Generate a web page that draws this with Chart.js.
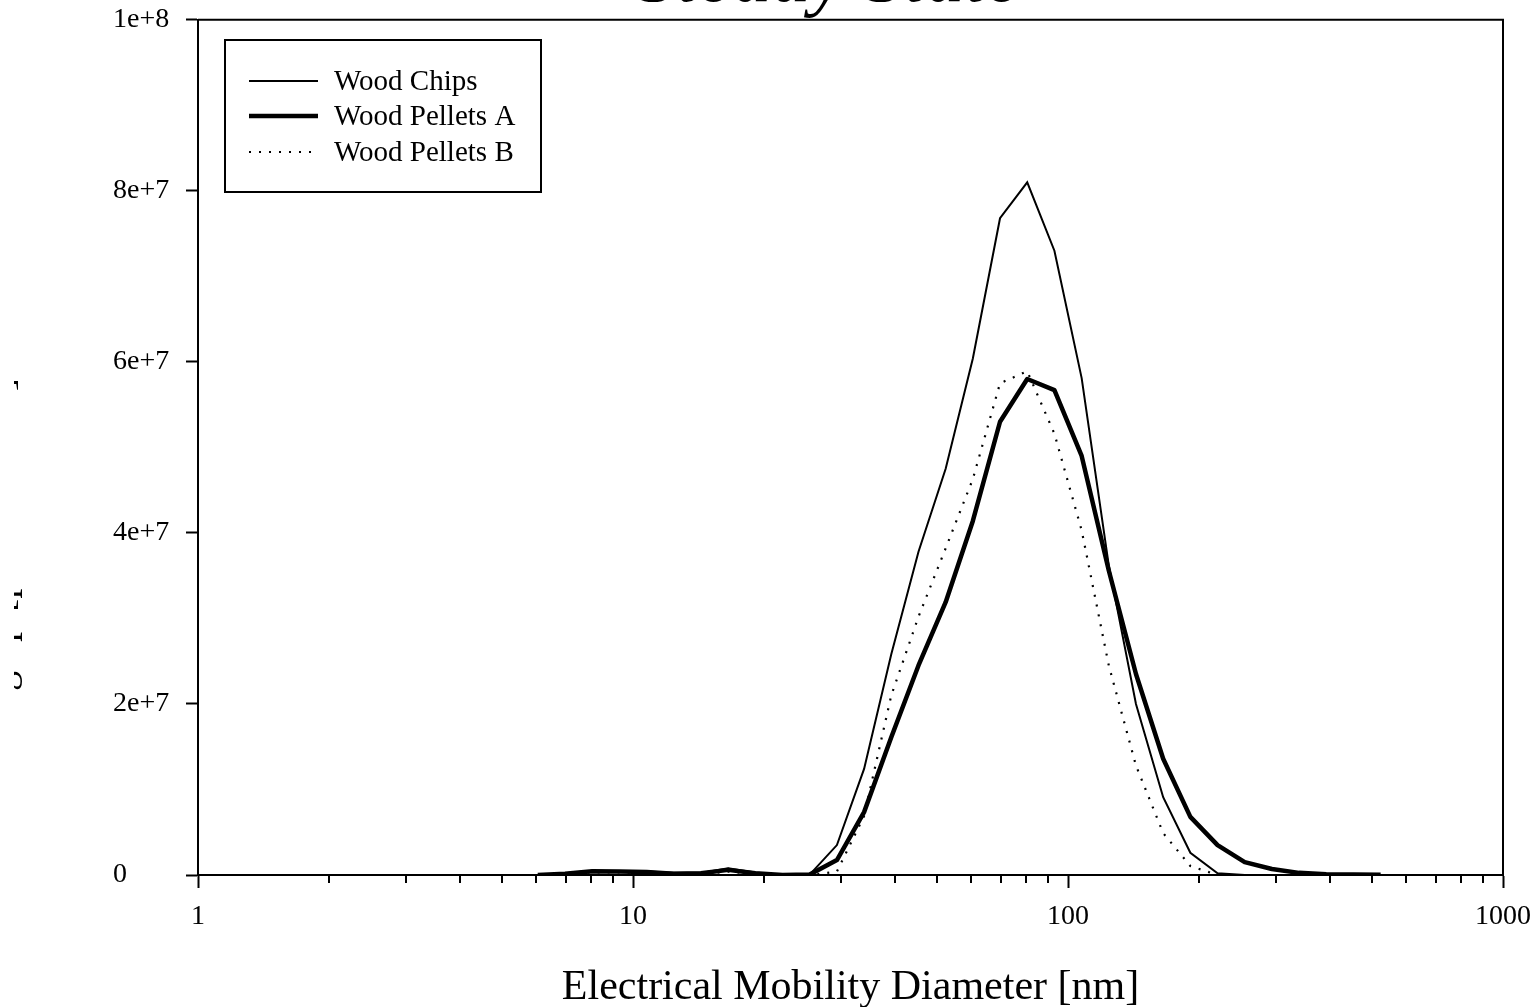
<!DOCTYPE html>
<html lang="en">
<head>
    <meta charset="UTF-8">
    <title>Steady State</title>
    <script src="https://cdn.jsdelivr.net/npm/chart.js"></script>
    <style>
        html, body { margin: 0; padding: 0; background: #fff; overflow: hidden; }
        canvas { display: block; }
    </style>
</head>
<body>
    <canvas id="sizeChart" width="1538" height="1007"></canvas>
    <script>
        // mobility diameter bins [nm]
        const diameters = [6.04, 6.98, 8.06, 9.31, 10.75, 12.41, 14.33, 16.55, 19.11, 22.07,
            25.48, 29.43, 33.98, 39.24, 45.32, 52.33, 60.43, 69.78, 80.59, 93.06,
            107.5, 124.1, 143.3, 165.5, 191.1, 220.7, 254.8, 294.3, 339.8, 392.4, 453.2, 523.3];

        const woodChips = [0, 2e5, 5e5, 4.5e5, 4e5, 2.5e5, 2.5e5, 8e5, 3e5, 0,
            5e4, 3.5e6, 1.24e7, 2.58e7, 3.78e7, 4.75e7, 6.04e7, 7.68e7, 8.10e7, 7.30e7,
            5.81e7, 3.62e7, 2.0e7, 9.1e6, 2.6e6, 2e5, 0, 0, 0, 0, 0, 0];

        const woodPelletsA = [0, 1.5e5, 4.5e5, 4e5, 3.5e5, 1.5e5, 2e5, 6e5, 2e5, 0,
            5e4, 1.75e6, 7.35e6, 1.61e7, 2.45e7, 3.19e7, 4.14e7, 5.30e7, 5.80e7, 5.67e7,
            4.90e7, 3.56e7, 2.35e7, 1.36e7, 6.8e6, 3.5e6, 1.5e6, 7e5, 2.5e5, 1e5, 5e4, 2e4];

        const woodPelletsB = [0, 1e5, 3e5, 3e5, 2e5, 1e5, 1e5, 4e5, 1e5, 0,
            0, 4e5, 6.9e6, 2.1e7, 3.02e7, 3.82e7, 4.63e7, 5.75e7, 5.89e7, 5.16e7,
            4.03e7, 2.45e7, 1.28e7, 4.9e6, 1.05e6, 0, 0, 0, 0, 0, 0, 0];

        const xMajorTicks = [1, 10, 100, 1000];
        const yTicks = [0, 2e7, 4e7, 6e7, 8e7, 1e8];

        const seriesNames = ['Wood Chips', 'Wood Pellets A', 'Wood Pellets B'];
        const chartTitle = 'Steady State';
        const xTitle = 'Electrical Mobility Diameter [nm]';
        const yTitle = 'dN/dlogDp [particles/cm³]';

        const serif = "'Liberation Serif', 'Times New Roman', serif";

        function toPoints(values) {
            return values.map((v, i) => ({ x: diameters[i], y: v }));
        }

        // white background, top/right frame, minor ticks, title, legend
        const decorations = {
            id: 'decorations',
            beforeDraw(chart) {
                const c = chart.ctx;
                c.save();
                c.fillStyle = '#fff';
                c.fillRect(0, 0, chart.width, chart.height);
                c.restore();
            },
            afterDraw(chart) {
                const c = chart.ctx;
                const a = chart.chartArea;
                const xs = chart.scales.x;
                c.save();
                c.strokeStyle = '#000';
                c.lineWidth = 2;
                // top + right frame
                c.beginPath();
                c.moveTo(a.left, a.top);
                c.lineTo(a.right, a.top);
                c.lineTo(a.right, a.bottom);
                c.stroke();
                // minor ticks on the log axis
                c.beginPath();
                for (let dec = 1; dec < 1000; dec *= 10) {
                    for (let m = 2; m <= 9; m++) {
                        const px = Math.round(xs.getPixelForValue(m * dec));
                        c.moveTo(px, a.bottom);
                        c.lineTo(px, a.bottom + 8);
                    }
                }
                c.stroke();

                // title (runs off the top of the page)
                c.fillStyle = '#000';
                c.font = 'italic 78px ' + serif;
                c.textAlign = 'center';
                c.textBaseline = 'alphabetic';
                c.fillText(chartTitle, 829, 1);

                // y title, mostly cut off at the left edge
                c.save();
                c.beginPath();
                c.rect(14, 0, 30, chart.height);
                c.clip();
                c.translate(13, 590);
                c.rotate(-Math.PI / 2);
                c.font = '40px ' + serif;
                c.fillText(yTitle, 0, 0);
                c.restore();

                // legend box
                c.lineWidth = 2;
                c.strokeRect(225, 40, 316, 152);
                const rowY = [81, 116, 152];
                chart.data.datasets.forEach((ds, i) => {
                    c.save();
                    c.lineWidth = ds.borderWidth;
                    c.setLineDash(ds.borderDash || []);
                    c.lineCap = ds.borderCapStyle || 'butt';
                    c.beginPath();
                    c.moveTo(249, rowY[i]);
                    c.lineTo(318, rowY[i]);
                    c.stroke();
                    c.restore();
                    c.font = '29px ' + serif;
                    c.textAlign = 'left';
                    c.textBaseline = 'middle';
                    c.fillText(ds.label, 334, rowY[i] + 1);
                });
                c.restore();
            }
        };

        const ctx = document.getElementById('sizeChart').getContext('2d');
        const sizeChart = new Chart(ctx, {
            type: 'line',
            data: {
                datasets: [{
                    label: seriesNames[0],
                    data: toPoints(woodChips),
                    borderColor: '#000',
                    borderWidth: 2,
                    pointRadius: 0
                }, {
                    label: seriesNames[1],
                    data: toPoints(woodPelletsA),
                    borderColor: '#000',
                    borderWidth: 4.5,
                    borderJoinStyle: 'round',
                    pointRadius: 0
                }, {
                    label: seriesNames[2],
                    data: toPoints(woodPelletsB),
                    borderColor: '#000',
                    borderWidth: 2.2,
                    borderDash: [2, 8],
                    pointRadius: 0
                }]
            },
            options: {
                responsive: false,
                animation: false,
                devicePixelRatio: 1,
                layout: { padding: { left: 113, top: 18, right: 35, bottom: 0 } },
                plugins: {
                    legend: { display: false },
                    title: { display: false },
                    tooltip: { enabled: false }
                },
                scales: {
                    x: {
                        type: 'logarithmic',
                        min: 1,
                        max: 1000,
                        afterBuildTicks: (scale) => {
                            scale.ticks = xMajorTicks.map(v => ({ value: v, major: true }));
                        },
                        afterFit: (scale) => {
                            scale.height = 132;
                            scale.paddingLeft = 0;
                            scale.paddingRight = 0;
                        },
                        border: { display: true, color: '#000', width: 2 },
                        grid: {
                            drawOnChartArea: false,
                            drawTicks: true,
                            tickLength: 13,
                            tickWidth: 2,
                            tickColor: '#000'
                        },
                        ticks: {
                            color: '#000',
                            font: { family: serif, size: 28 },
                            padding: 12,
                            maxRotation: 0,
                            autoSkip: false,
                            callback: (v) => String(v)
                        },
                        title: {
                            display: true,
                            text: xTitle,
                            color: '#000',
                            font: { family: serif, size: 42 },
                            padding: { top: 0, bottom: -6 }
                        }
                    },
                    y: {
                        type: 'linear',
                        min: 0,
                        max: 1e8,
                        afterBuildTicks: (scale) => {
                            scale.ticks = yTicks.map(v => ({ value: v }));
                        },
                        afterFit: (scale) => { scale.width = 85; },
                        border: { display: true, color: '#000', width: 2 },
                        grid: {
                            drawOnChartArea: false,
                            drawTicks: true,
                            tickLength: 12,
                            tickWidth: 2,
                            tickColor: '#000'
                        },
                        ticks: {
                            color: '#000',
                            font: { family: serif, size: 28 },
                            crossAlign: 'far',
                            callback: (v) => v === 0 ? '0' : v.toExponential()
                        }
                    }
                }
            },
            plugins: [decorations]
        });
    </script>
</body>
</html>
